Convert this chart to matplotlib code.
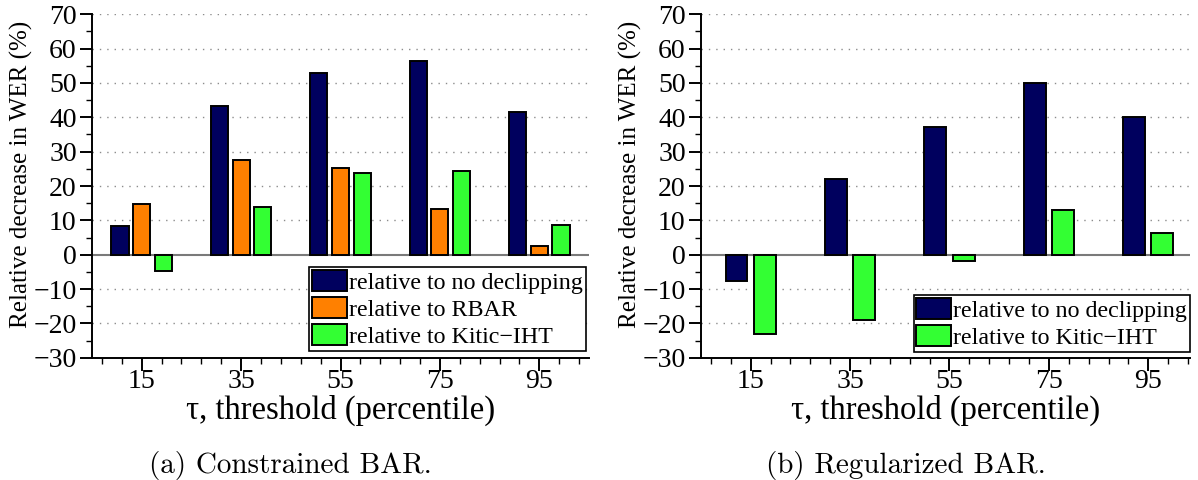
import matplotlib
matplotlib.use("Agg")
import matplotlib.pyplot as plt
from matplotlib.ticker import MultipleLocator, FixedLocator
import numpy as np

# Data
thresholds = [15, 35, 55, 75, 95]

constrained_no_declip = [8.4, 43.4, 52.9, 56.3, 41.5]
constrained_rbar = [14.8, 27.6, 25.2, 13.2, 2.5]
constrained_kitic = [-4.7, 13.8, 23.8, 24.5, 8.7]

regularized_no_declip = [-7.7, 21.9, 37.1, 49.9, 40.1]
regularized_kitic = [-23.1, -19.0, -1.8, 13.0, 6.3]

label_no = "relative to no declipping"
label_rbar = "relative to RBAR"
label_kitic = "relative to Kitic\u2212IHT"

NAVY = "#00005e"
ORANGE = "#ff8000"
GREEN = "#33ff33"

plt.rcParams["font.family"] = ["Liberation Serif", "DejaVu Serif"]

fig = plt.figure(figsize=(11.98, 4.8), dpi=100)

W, H = 1198.0, 480.0
y_top, y_bot = 14.3, 357.7


def make_axes(x0, x1):
    return fig.add_axes([x0 / W, 1 - y_bot / H, (x1 - x0) / W, (y_bot - y_top) / H])


ax1 = make_axes(92, 589)
ax2 = make_axes(701, 1190)


def style(ax, xmax, x0px, x1px, label_x):
    ax.set_xlim(5, xmax)
    ax.set_ylim(-30, 70)
    for s in ("top", "right"):
        ax.spines[s].set_visible(False)
    for s in ("left", "bottom"):
        ax.spines[s].set_linewidth(1.4)
    ax.yaxis.set_major_locator(MultipleLocator(10))
    ax.yaxis.set_minor_locator(MultipleLocator(5))
    ax.xaxis.set_major_locator(FixedLocator(thresholds))
    ax.xaxis.set_minor_locator(FixedLocator(np.arange(7, xmax + 0.01, 4)))
    ax.tick_params(axis="both", which="major", direction="out", length=9, width=1.4,
                   labelsize=20, pad=2)
    ax.tick_params(axis="both", which="minor", direction="out", length=4.5, width=1.0)
    ax.tick_params(axis="x", which="major", pad=-1)
    for gy in [-20, -10, 10, 20, 30, 40, 50, 60, 70]:
        ax.axhline(gy, color="#8c8c8c", lw=1.0, ls=(0, (1, 4.3)), zorder=0)
    ax.axhline(0, color="#7a7a7a", lw=1.5, zorder=1)
    ax.set_ylabel("Relative decrease in WER (%)", fontsize=18)
    ax.yaxis.set_label_coords((label_x - x0px) / (x1px - x0px),
                              (y_bot - 174) / (y_bot - y_top))
    ax.set_xlabel("\u03c4, threshold (percentile)", fontsize=23.5, labelpad=1)


x = np.array(thresholds, dtype=float)

# Constrained BAR: three bars per threshold
style(ax1, 105, 92, 589, 33)
bw1, off1 = 3.45, 4.37
ax1.bar(x - off1, constrained_no_declip, bw1, color=NAVY, edgecolor="black", lw=1.4,
        label=label_no, zorder=3)
ax1.bar(x, constrained_rbar, bw1, color=ORANGE, edgecolor="black", lw=1.4,
        label=label_rbar, zorder=3)
ax1.bar(x + off1, constrained_kitic, bw1, color=GREEN, edgecolor="black", lw=1.4,
        label=label_kitic, zorder=3)

# Regularized BAR: two bars per threshold
style(ax2, 103.4, 701, 1190, 642)
bw2, off2 = 4.4, 2.85
ax2.bar(x - off2, regularized_no_declip, bw2, color=NAVY, edgecolor="black", lw=1.4,
        label=label_no, zorder=3)
ax2.bar(x + off2, regularized_kitic, bw2, color=GREEN, edgecolor="black", lw=1.4,
        label=label_kitic, zorder=3)

for ax, anchor in ((ax1, (0.993, 0.02)), (ax2, (1.0, 0.017))):
    leg = ax.legend(loc="lower right", bbox_to_anchor=anchor, borderaxespad=0,
                    fontsize=17.3, fancybox=False, framealpha=1, edgecolor="black",
                    handlelength=1.45, handleheight=0.95, handletextpad=0.08,
                    labelspacing=0.14, borderpad=0.12)
    leg.get_frame().set_linewidth(1.2)
    leg.set_zorder(5)

fig.text(290 / W, 1 - 465 / H, "(a) Constrained BAR.", fontsize=21, family="cmr10",
         ha="center", va="center")
fig.text(906 / W, 1 - 465 / H, "(b) Regularized BAR.", fontsize=21, family="cmr10",
         ha="center", va="center")

fig.savefig("out.png", dpi=100)
